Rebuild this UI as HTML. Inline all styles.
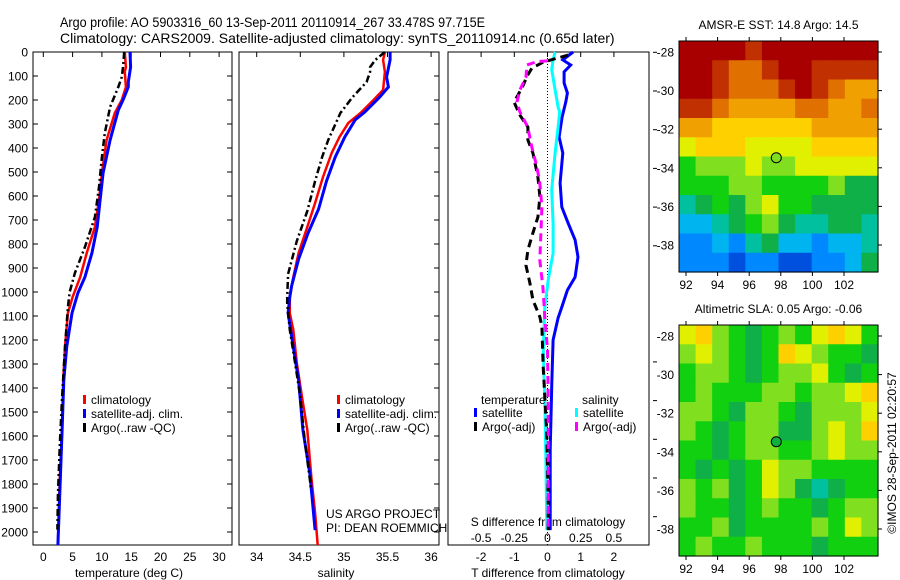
<!DOCTYPE html>
<html><head><meta charset="utf-8"><style>
html,body{margin:0;padding:0;background:#fff;}
svg{display:block;font-family:"Liberation Sans",sans-serif;}
text{fill:#000;}
</style></head><body>
<svg id="fig" width="900" height="580" viewBox="0 0 900 580" xmlns="http://www.w3.org/2000/svg">
<text x="60" y="27" font-size="14" textLength="425" lengthAdjust="spacingAndGlyphs">Argo profile: AO 5903316_60 13-Sep-2011 20110914_267 33.478S 97.715E</text>
<text x="60" y="43" font-size="14">Climatology: CARS2009. Satellite-adjusted climatology: synTS_20110914.nc (0.65d later)</text>
<g id="p1"></g>
<g id="p2"></g>
<g id="p3"></g>
<g id="m1"></g>
<g id="m2"></g>
<text x="0" y="0" font-size="12" text-anchor="middle" transform="translate(896,453) rotate(-90)">©IMOS 28-Sep-2011 02:20:57</text>
</svg>
<script>
// ---- data ----
const depthTicks=[0,100,200,300,400,500,600,700,800,900,1000,1100,1200,1300,1400,1500,1600,1700,1800,1900,2000];
const tempTicks=[0,5,10,15,20,25,30];
const salTicks=[34,34.5,35,35.5,36];
const tdiffTicks=[-2,-1,0,1,2];
const sdiffTicks=[-0.5,-0.25,0,0.25,0.5];
const sdiffLabels=["-0.5","-0.25","0","0.25","0.5"];
const lonTicks=[92,94,96,98,100,102];
const latTicks=[-28,-30,-32,-34,-36,-38];

const climTD=[0,63,83,146,200,254,367,504,617,729,838,938,1021,1088,1229,1367,1575,1783,2054];
const climT=[13.9,14.1,13.9,14.1,13.4,12.2,10.8,10.0,9.5,8.8,7.4,6.3,5.0,4.2,3.7,3.4,3.2,2.8,2.5];
const satTD=[0,63,125,146,200,242,367,504,617,729,838,938,1004,1088,1229,1367,1575,1850,2054];
const satT=[14.8,14.9,14.5,14.5,13.6,12.8,11.4,10.2,9.7,9.2,8.3,7.1,5.9,4.9,4.0,3.5,3.2,2.8,2.5];
const argoTD=[0,63,104,146,229,338,438,563,688,813,921,1000,1063,1229,1438,1646,1850,1990];
const argoT=[13.8,13.6,13.4,12.8,11.4,10.5,10.0,9.5,8.8,7.1,5.4,4.5,4.2,3.7,3.2,2.8,2.5,2.4];

const climSD=[0,33,83,158,200,254,296,354,421,521,629,729,838,938,1021,1088,1158,1296,1438,1575,1783,1921,2054];
const climS=[35.47,35.45,35.47,35.45,35.34,35.19,35.05,34.95,34.86,34.76,34.67,34.58,34.48,34.42,34.38,34.38,34.42,34.46,34.52,34.58,34.63,34.67,34.70];
const satSD=[0,33,104,146,188,250,283,354,438,538,654,754,863,975,1021,1088,1229,1367,1575,1758,1992];
const satS=[35.53,35.53,35.49,35.51,35.41,35.24,35.13,35.01,34.90,34.80,34.71,34.59,34.48,34.40,34.38,34.36,34.42,34.48,34.53,34.61,34.67];
const argoSD=[0,33,63,83,125,188,254,367,438,538,663,788,925,1021,1050,1158,1296,1438,1617,1783,1820];
const argoS=[35.47,35.36,35.30,35.30,35.26,35.10,34.96,34.82,34.75,34.67,34.58,34.46,34.36,34.35,34.35,34.38,34.44,34.50,34.55,34.61,34.62];

const dSatTD=[0,33,54,83,129,171,208,271,354,421,546,646,713,783,854,938,992,1063,1108,1200,1379,1658,1992];
const dSatT=[0.77,0.46,0.70,0.50,0.50,0.60,0.55,0.44,0.35,0.46,0.38,0.43,0.62,0.83,0.92,0.83,0.60,0.43,0.32,0.17,0.13,0.08,0.08];
const dArgoTD=[13,42,67,104,138,179,208,263,313,367,421,521,604,688,754,825,888,963,1033,1104,1146,1313,1588,1867,1992];
const dArgoT=[0.62,-0.13,-0.47,-0.63,-0.73,-0.89,-1.01,-0.83,-0.59,-0.59,-0.44,-0.29,-0.23,-0.29,-0.44,-0.59,-0.65,-0.53,-0.44,-0.23,-0.17,-0.13,-0.02,0.02,0.02];
const dSatSD=[0,33,73,158,229,250,313,421,575,713,838,950,1063,1242,1450,1700,1992];
const dSatS=[0.057,0.042,0.032,0.057,0.080,0.092,0.080,0.057,0.032,0.042,0.042,0.005,-0.020,-0.032,-0.020,-0.012,-0.005];
const dArgoSD=[37,40,54,104,158,208,250,313,396,479,546,646,754,867,979,1104,1242,1450,1867,1992];
const dArgoS=[0,-0.080,-0.155,-0.162,-0.208,-0.230,-0.208,-0.148,-0.118,-0.080,-0.058,-0.042,-0.050,-0.058,-0.035,-0.020,0,0.005,0.005,0.005];

const sstGrid=[
[12,12,12,12,11,12,12,12,12,12,12,12],
[12,12,11,10,10,11,12,12,11,11,11,11],
[12,12,11,10,10,10,11,12,11,10,9,9],
[11,11,10,9,9,9,9,10,10,9,9,10],
[9,9,8,8,8,8,8,8,9,9,9,9],
[7,8,8,8,7,7,7,7,8,8,8,8],
[5,6,6,6,7,6,6,7,7,7,7,7],
[5,5,5,6,6,5,5,5,5,6,4,4],
[3,4,5,4,6,7,5,5,4,4,4,4],
[2,2,3,4,5,6,4,3,3,4,4,3],
[1,1,2,1,3,4,2,2,1,2,2,3],
[1,1,1,0,1,1,0,0,1,1,2,4]];
const slaGrid=[
[7,8,6,5,4,5,6,5,7,8,7,5],
[6,7,6,5,4,5,8,7,6,5,5,4],
[5,6,6,5,4,5,6,6,7,5,4,5],
[5,6,5,5,5,6,6,5,6,6,7,8],
[6,6,5,4,6,6,5,4,6,6,6,7],
[6,5,4,5,6,6,4,4,6,7,6,8],
[5,5,4,5,6,6,5,5,6,7,6,6],
[5,4,5,4,5,7,6,6,5,5,5,5],
[6,5,6,4,5,7,6,4,3,4,5,5],
[6,5,5,4,5,6,5,5,4,5,6,6],
[5,5,6,4,5,5,5,5,6,5,7,6],
[5,6,5,5,6,5,5,5,4,5,5,5]];
const palette=["#0050e0","#0088ff","#00b4f0","#00c0a0","#10b048","#10d010","#80e020","#e0f000","#ffd000","#f0a000","#e07000","#c03000","#a80000"];
const argoLon=[97.715];
const argoLat=[-33.478];

// ---- helpers ----
const NS="http://www.w3.org/2000/svg";
function mk(tag,attrs,parent){const e=document.createElementNS(NS,tag);for(const k in attrs)e.setAttribute(k,attrs[k]);parent.appendChild(e);return e;}
const yTop=52,yBot=545;
const yD=d=>yTop+d*0.24;
const xT=t=>43.3+5.86*t;
const xS=s=>256.7+87.2*(s-34);
const xDT=t=>547.5+33.2*t;
const xDS=s=>547.5+33.2*4*s;

function frame(g,x0,x1,name){
  const r=mk('rect',{x:x0,y:yTop,width:x1-x0,height:yBot-yTop,fill:'none',stroke:'#000','stroke-width':1},g);
  
  
}
function line(g,xs,ds,xf,color,w,dash,name){
  const pts=xs.map((v,i)=>xf(v).toFixed(1)+','+yD(ds[i]).toFixed(1)).join(' ');
  const p=mk('polyline',{points:pts,fill:'none',stroke:color,'stroke-width':w,'stroke-linejoin':'miter'},g);
  if(dash)p.setAttribute('stroke-dasharray',dash);
  
  
}
function txt(g,x,y,s,size,anchor,name){
  const t=mk('text',{x:x,y:y,'font-size':size,'text-anchor':anchor||'start'},g);
  t.textContent=s;
  
  
  return t;
}
function legendItem(g,x,y,color,label,name){
  const r=mk('rect',{x:x,y:y-9,width:3,height:9,fill:color},g);
  
  
  txt(g,x+8,y,label,12,'start',name+'-label');
}

// ---- panel 1 ----
const p1=document.getElementById('p1');
frame(p1,33,232,'temperature-axes-frame');
depthTicks.forEach(d=>{
  const y=yD(d);
  mk('line',{x1:33,y1:y,x2:38,y2:y,stroke:'#000'},p1);
  mk('line',{x1:227,y1:y,x2:232,y2:y,stroke:'#000'},p1);
  txt(p1,28,y+4.5,String(d),12,'end','depth-tick-label');
});
tempTicks.forEach(t=>{
  mk('line',{x1:xT(t),y1:yTop,x2:xT(t),y2:yTop+5,stroke:'#000'},p1);
  txt(p1,xT(t),561,String(t),12,'middle','temperature-tick-label');
});
txt(p1,129,577,'temperature (deg C)',12,'middle','temperature-axis-title');
line(p1,climT,climTD,xT,'#ff0000',2.5,null,'temperature-climatology-line');
line(p1,satT,satTD,xT,'#0000ff',3,null,'temperature-satellite-line');
line(p1,argoT,argoTD,xT,'#000',2.5,'7,3,2,3','temperature-argo-line');
legendItem(p1,83,404,'#ff0000','climatology','legend-climatology');
legendItem(p1,83,418,'#0000ff','satellite-adj. clim.','legend-satellite');
legendItem(p1,83,432,'#000','Argo(..raw -QC)','legend-argo');

// ---- panel 2 ----
const p2=document.getElementById('p2');
frame(p2,239,439,'salinity-axes-frame');
depthTicks.forEach(d=>{
  const y=yD(d);
  mk('line',{x1:434,y1:y,x2:439,y2:y,stroke:'#000'},p2);
});
salTicks.forEach(s=>{
  mk('line',{x1:xS(s),y1:yTop,x2:xS(s),y2:yTop+5,stroke:'#000'},p2);
  txt(p2,xS(s),561,String(s),12,'middle','salinity-tick-label');
});
txt(p2,336,577,'salinity',12,'middle','salinity-axis-title');
line(p2,climS,climSD,xS,'#ff0000',2.5,null,'salinity-climatology-line');
line(p2,satS,satSD,xS,'#0000ff',3,null,'salinity-satellite-line');
line(p2,argoS,argoSD,xS,'#000',2.5,'7,3,2,3','salinity-argo-line');
legendItem(p2,337,404,'#ff0000','climatology','legend-sal-climatology');
legendItem(p2,337,418,'#0000ff','satellite-adj. clim.','legend-sal-satellite');
legendItem(p2,337,432,'#000','Argo(..raw -QC)','legend-sal-argo');
txt(p2,326,518,'US ARGO PROJECT',12,'start','project-credit');
txt(p2,326,532,'PI: DEAN ROEMMICH',12,'start','pi-credit');

// ---- panel 3 ----
const p3=document.getElementById('p3');
frame(p3,448,649,'difference-axes-frame');
for(let k=0;k<13;k++){const y=52.3+38.7*k;if(y>yBot)break;if(y>250&&y<330)continue;mk('line',{x1:653,y1:y,x2:657,y2:y,stroke:'#000'},p3);}
tdiffTicks.forEach(t=>{
  mk('line',{x1:xDT(t),y1:yTop,x2:xDT(t),y2:yTop+5,stroke:'#000'},p3);
  txt(p3,xDT(t),561,String(t),12,'middle','tdiff-tick-label');
});
sdiffTicks.forEach((s,i)=>{txt(p3,xDS(s),542,sdiffLabels[i],12,'middle','sdiff-tick-label');});
txt(p3,548,526,'S difference from climatology',12,'middle','sdiff-axis-title');
txt(p3,548,577,'T difference from climatology',12,'middle','tdiff-axis-title');
mk('line',{x1:547.5,y1:yTop,x2:547.5,y2:yBot,stroke:'#000','stroke-dasharray':'1,2'},p3);
line(p3,dSatT,dSatTD,xDT,'#0000ff',3,null,'tdiff-satellite-line');
line(p3,dSatS,dSatSD,xDS,'#00ffff',3,null,'sdiff-satellite-line');
line(p3,dArgoT,dArgoTD,xDT,'#000',3,'8,5','tdiff-argo-line');
line(p3,dArgoS,dArgoSD,xDS,'#ff00ff',3,'8,5','sdiff-argo-line');
txt(p3,481,404,'temperature',12,'start','legend-temperature-heading');
legendItem(p3,474,417,'#0000ff','satellite','legend-tdiff-satellite');
legendItem(p3,474,431,'#000','Argo(-adj)','legend-tdiff-argo');
txt(p3,582,404,'salinity',12,'start','legend-salinity-heading');
legendItem(p3,575,417,'#00ffff','satellite','legend-sdiff-satellite');
legendItem(p3,575,431,'#ff00ff','Argo(-adj)','legend-sdiff-argo');

// ---- maps ----
function map(g,grid,y0,title,ptColor,name){
  const x0=679,x1=878,y1=y0+231;
  const lonX=l=>686+15.8*(l-92);
  const latY=l=>y0+11+19.3*(-28-l);
  const rows=grid.length,cols=grid[0].length;
  const cw=(x1-x0)/cols,ch=(y1-y0)/rows;
  grid.forEach((row,i)=>row.forEach((v,j)=>{
    const c=mk('rect',{x:(x0+j*cw).toFixed(2),y:(y0+i*ch).toFixed(2),width:(cw+0.6).toFixed(2),height:(ch+0.6).toFixed(2),fill:palette[v]},g);
    
    
  }));
  const f=mk('rect',{x:x0,y:y0,width:x1-x0,height:y1-y0,fill:'none',stroke:'#000'},g);
  
  
  lonTicks.forEach(l=>{
    mk('line',{x1:lonX(l),y1:y1,x2:lonX(l),y2:y1+4,stroke:'#000'},g);
    mk('line',{x1:lonX(l),y1:y0,x2:lonX(l),y2:y0-4,stroke:'#000'},g);
    txt(g,lonX(l),y1+17,String(l),12,'middle',name+'-lon-label');
  });
  latTicks.forEach(l=>{
    mk('line',{x1:x1,y1:latY(l),x2:x1+4,y2:latY(l),stroke:'#000'},g);
    txt(g,674,latY(l)+4.5,String(l),12,'end',name+'-lat-label');
  });
  txt(g,778.5,y0-12,title,12,'middle',name+'-title');
  const c=mk('circle',{cx:lonX(argoLon[0]),cy:latY(argoLat[0]),r:5,fill:ptColor,stroke:'#000'},g);
  
  
}
map(document.getElementById('m1'),sstGrid,41,'AMSR-E SST: 14.8 Argo: 14.5','#80e020','sst-map');
map(document.getElementById('m2'),slaGrid,325,'Altimetric SLA: 0.05 Argo: -0.06','#10b040','sla-map');
</script>
</body></html>
